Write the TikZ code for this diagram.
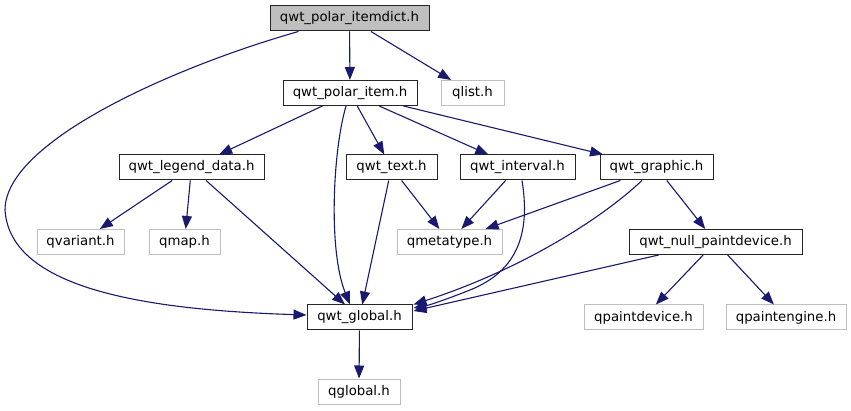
\documentclass[tikz,border=0pt]{standalone}
\usepackage{fontspec}
\setmainfont{DejaVu Sans}
\usetikzlibrary{arrows.meta,calc}
\definecolor{edgecol}{HTML}{191970}
\definecolor{grayb}{HTML}{BFBFBF}
\tikzset{
  box/.style={draw=black!85, line width=1pt, fill=white, inner sep=0pt, minimum height=25pt, font=\fontsize{13.3}{15}\selectfont},
  ext/.style={box, draw=grayb},
  rootbox/.style={box, fill=grayb},
  edge/.style={draw=edgecol, line width=1.1pt, -{Triangle[length=13pt,width=10pt]}},
}
\begin{document}
\begin{tikzpicture}[x=1pt,y=-1pt]
\useasboundingbox (0,0) rectangle (851,411);
\node[rootbox, minimum width=159pt] (dict) at (349.5,18.5) {qwt\_polar\_itemdict.h};
\node[box, minimum width=134pt] (pitem) at (350,93) {qwt\_polar\_item.h};
\node[ext, minimum width=63pt] (qlist) at (472.5,93) {qlist.h};
\node[box, minimum width=145pt] (legend) at (191.5,167.5) {qwt\_legend\_data.h};
\node[box, minimum width=91pt] (text) at (391.5,167.5) {qwt\_text.h};
\node[box, minimum width=115pt] (interval) at (517.5,167.5) {qwt\_interval.h};
\node[box, minimum width=113pt] (graphic) at (656.5,167.5) {qwt\_graphic.h};
\node[ext, minimum width=87pt] (qvariant) at (80.5,242) {qvariant.h};
\node[ext, minimum width=71pt] (qmap) at (184.5,242) {qmap.h};
\node[ext, minimum width=105pt] (qmeta) at (449.5,242) {qmetatype.h};
\node[box, minimum width=173pt] (null) at (715.5,242) {qwt\_null\_paintdevice.h};
\node[box, minimum width=105pt] (gl) at (359.5,317.5) {qwt\_global.h};
\node[ext, minimum width=119pt] (qpd) at (643.5,317.5) {qpaintdevice.h};
\node[ext, minimum width=120pt] (qpe) at (786,317.5) {qpaintengine.h};
\node[ext, minimum width=82pt] (qglobal) at (359,391.5) {qglobal.h};

\draw[edge] (dict) -- (pitem);
\draw[edge] (dict) -- (qlist);
\draw[edge] ($(dict.south west)+(29,0)$) .. controls (180,65) and (5,140) .. (5,210)
   .. controls (10,290) and (150,310) .. ($(gl.west)+(0,-2.5)$);
\draw[edge] (pitem) -- (legend);
\draw[edge] (pitem) -- (text);
\draw[edge] (pitem) -- (interval);
\draw[edge] (pitem) -- (graphic);
\draw[edge] ($(pitem.south)+(-4,0)$) .. controls (333,150) and (328,250) .. ($(gl.north)+(-9.5,0)$);
\draw[edge] (legend) -- (qvariant);
\draw[edge] (legend) -- (qmap);
\draw[edge] (legend) -- (gl);
\draw[edge] (text) -- (qmeta);
\draw[edge] (text) -- (gl);
\draw[edge] (interval) -- (qmeta);
\draw[edge] ($(interval.south)+(4.5,0)$) .. controls (530,230) and (520,270) .. (470,290)
   .. controls (450,298) and (430,305) .. ($(gl.east)+(1,-9.5)$);
\draw[edge] (graphic) -- (qmeta);
\draw[edge] ($(graphic.south)+(-14.5,0)$) .. controls (600,220) and (520,270) .. ($(gl.east)+(1,-13)$);
\draw[edge] (graphic) -- (null);
\draw[edge] (null) -- ($(gl.east)+(1,-6.5)$);
\draw[edge] (null) -- (qpd);
\draw[edge] (null) -- (qpe);
\draw[edge] (gl) -- (qglobal);
\end{tikzpicture}
\end{document}
